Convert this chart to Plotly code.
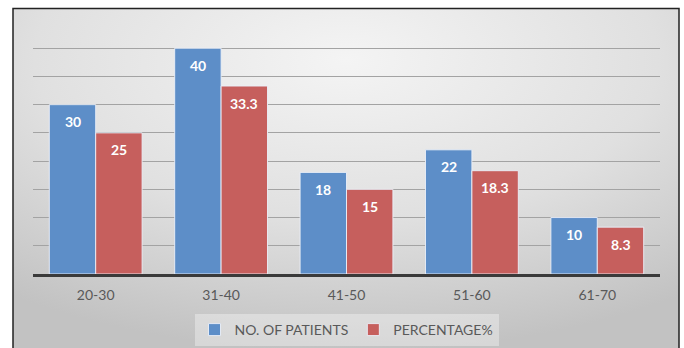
import base64
import plotly.graph_objects as go

categories = ["20-30", "31-40", "41-50", "51-60", "61-70"]
patients = [30, 40, 18, 22, 10]
percentage = [25, 33.3, 15, 18.3, 8.3]
series_names = ["NO. OF PATIENTS", "PERCENTAGE%"]

BLUE = "#5d8ec8"
RED = "#c65f5d"
FONT = "Lato, 'Open Sans', sans-serif"

svg = """<svg xmlns='http://www.w3.org/2000/svg' width='400' height='200' preserveAspectRatio='none'>
<defs><radialGradient id='g' cx='50%' cy='15%' r='85%' fx='50%' fy='15%'>
<stop offset='0%' stop-color='#f4f4f4'/>
<stop offset='55%' stop-color='#e0e0e0'/>
<stop offset='100%' stop-color='#c2c2c2'/>
</radialGradient></defs>
<rect width='400' height='200' fill='url(#g)'/></svg>"""
bg_uri = "data:image/svg+xml;base64," + base64.b64encode(svg.encode()).decode()

fig = go.Figure()
for name, vals, col in [(series_names[0], patients, BLUE), (series_names[1], percentage, RED)]:
    fig.add_trace(go.Bar(
        x=categories, y=vals, name=name,
        marker=dict(color=col, line=dict(color="rgba(235,240,248,0.9)", width=1)),
        hoverinfo="skip",
    ))

# data labels (inside end, slightly below the bar top like the original)
for i, (vals, shift) in enumerate([(patients, -23.2), (percentage, 23.2)]):
    for c, v in zip(categories, vals):
        fig.add_annotation(
            x=c, y=v, text=f"<b>{v:g}</b>", showarrow=False,
            xshift=shift, yshift=-17, yanchor="middle",
            font=dict(family=FONT, size=14, color="white"),
        )

W, H = 684, 348
ml, mr, mt, mb = 33, 24, 20, 74
pw, ph = W - ml - mr, H - mt - mb

def px2x(p):
    return (p - ml) / pw

def py2y(p):
    return (H - mb - p) / ph

fig.add_layout_image(
    source=bg_uri, xref="paper", yref="paper",
    x=px2x(13), y=py2y(8), sizex=px2x(679) - px2x(13), sizey=py2y(8) - py2y(352),
    sizing="stretch", layer="below", xanchor="left", yanchor="top",
)
fig.add_shape(
    type="rect", xref="paper", yref="paper",
    x0=px2x(13), x1=px2x(679), y0=py2y(352), y1=py2y(8.5),
    line=dict(color="#222222", width=1.5), fillcolor="rgba(0,0,0,0)", layer="above",
)

fig.update_layout(
    width=W, height=H,
    margin=dict(l=ml, r=mr, t=mt, b=mb, autoexpand=False),
    paper_bgcolor="white", plot_bgcolor="rgba(0,0,0,0)",
    barmode="group", bargap=0.26, bargroupgap=0.0,
    font=dict(family=FONT, color="#595959", size=14),
    showlegend=True,
    legend=dict(
        orientation="h", x=0.5, xanchor="center", y=py2y(314), yanchor="top",
        bgcolor="rgba(255,255,255,0.35)", borderwidth=0,
        font=dict(family=FONT, size=14, color="#595959"),
        itemwidth=30, traceorder="normal",
    ),
    xaxis=dict(
        showgrid=False, showline=True, linecolor="#3a3a3a", linewidth=2.5,
        ticks="", tickfont=dict(family=FONT, size=14, color="#595959"),
        ticklabelstandoff=6,
    ),
    yaxis=dict(
        range=[0, 45], dtick=5, showgrid=True, gridcolor="#a3a3a3", gridwidth=1.4,
        showticklabels=False, zeroline=False, showline=False, ticks="",
    ),
)

fig.write_html("out.html")
